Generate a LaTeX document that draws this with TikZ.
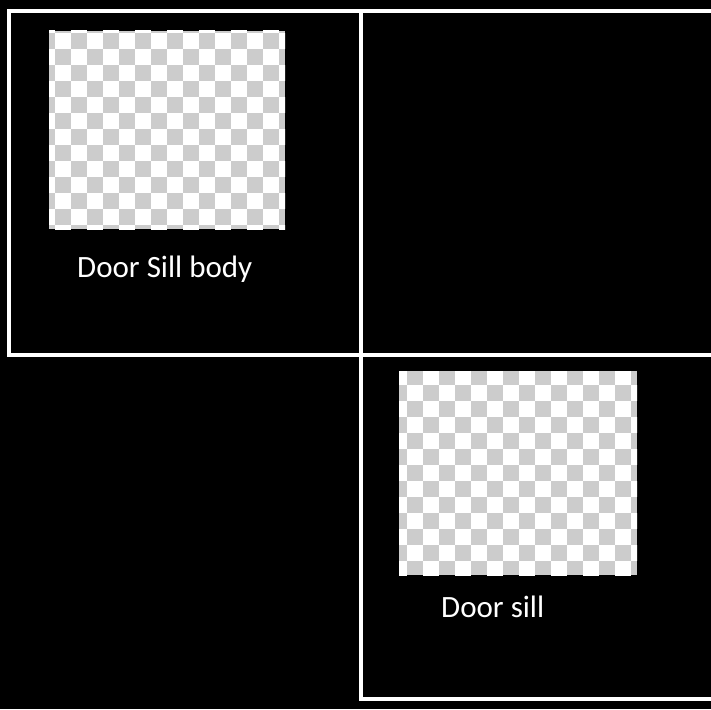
\documentclass[tikz,border=0pt]{standalone}
\usepackage{fontspec}
\setmainfont{Carlito}
\definecolor{checkgray}{HTML}{CCCCCC}
\tikzset{
  frameline/.style={draw=white, line width=4pt},
  checkbox/.style={fill=checkgray, draw=none, inner sep=0pt, outer sep=0pt},
  caption/.style={text=white, inner sep=0pt, anchor=base west, font=\fontsize{31}{37}\selectfont}
}
\begin{document}
\begin{tikzpicture}[x=1pt, y=-1pt]
\useasboundingbox (0,0) rectangle (711,709);
\fill[black] (0,0) rectangle (711,709);
% checkerboard 1
\node[checkbox, minimum width=236pt, minimum height=198pt] (img1) at (167,130) {};
\begin{scope}
  \clip (49,31) rectangle (285,229);
  \foreach \i in {-1,...,14} {
    \foreach \j in {-1,...,12} {
      \pgfmathtruncatemacro\cpar{mod(\i+\j+4,2)}
      \ifnum\cpar=0 \fill[white] (55+16*\i,33+16*\j) rectangle ++(16,16);\fi
    }
  }
\end{scope}
% checkerboard 2
\node[checkbox, minimum width=238pt, minimum height=204pt] (img2) at (518,473) {};
\begin{scope}
  \clip (399,371) rectangle (637,575);
  \foreach \i in {-1,...,14} {
    \foreach \j in {-1,...,12} {
      \pgfmathtruncatemacro\cpar{mod(\i+\j+4,2)}
      \ifnum\cpar=0 \fill[white] (407+16*\i,385+16*\j) rectangle ++(16,16);\fi
    }
  }
\end{scope}
% frame lines
\draw[frameline] (711,11) -- (9,11) -- (9,355) -- (711,355);
\draw[frameline] (361,11) -- (361,699) -- (711,699);
% captions
\node[caption] (cap1) at (77,277) {Door Sill body};
\node[caption] (cap2) at (441,617) {Door sill};
\end{tikzpicture}
\end{document}
